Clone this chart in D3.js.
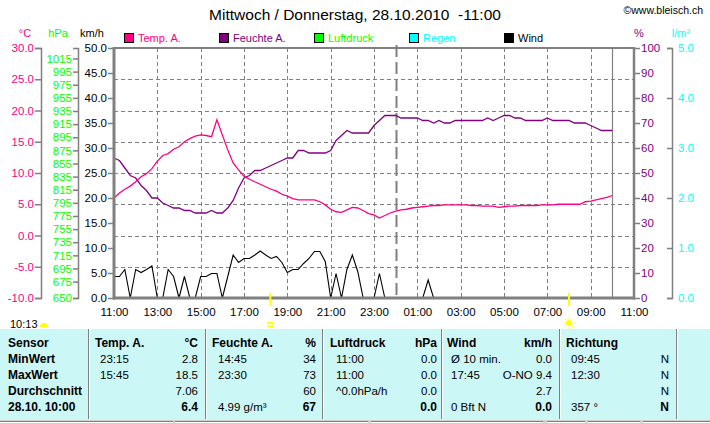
<!DOCTYPE html>
<html><head><meta charset="utf-8">
<script src="https://cdn.jsdelivr.net/npm/d3@7/dist/d3.min.js"></script>
<style>
body{margin:0;background:#fff;}
svg{display:block;font-family:"Liberation Sans",Arial,sans-serif;}
</style></head><body>
<svg id="c" width="710" height="424"></svg>
<script>
// ---------- data ----------
const startTime = "2010-10-27 11:00";
const endTime = "2010-10-28 11:00";
const nowTime = "2010-10-28 10:00";
const midnightTime = "2010-10-28 00:00";
const sunsetTime = "2010-10-27 18:13";
const sunriseTime = "2010-10-28 08:00";
const stepMinutes = 15;

const tempValues = [6.0,6.8,7.4,7.9,8.6,9.4,9.9,10.7,11.9,12.8,13.1,13.8,14.2,15.0,15.5,15.9,16.1,16.0,15.8,18.5,16.1,13.7,11.6,10.5,9.5,9.0,8.6,8.2,7.8,7.4,7.1,6.6,6.3,5.9,5.7,5.7,5.7,5.7,5.4,4.9,4.2,3.8,3.7,4.1,4.5,4.4,4.0,3.5,
  3.3,2.8,3.2,3.6,3.9,4.1,4.2,4.4,4.5,4.6,4.7,4.8,4.8,4.9,4.9,4.9,4.9,4.9,4.8,4.8,4.7,4.7,4.7,4.5,4.6,4.7,4.7,4.8,4.8,4.8,4.8,4.9,4.9,4.9,5.0,5.0,5.0,5.0,5.0,5.4,5.5,5.7,5.9,6.1,6.4];
const humValues = [56,55,52,49,48,45,43,40,40,38,37,36,36,35,35,34,34,34,35,34,34,36,39,44,48,49,51,51,52,53,54,55,56,56,59,59,58,58,58,58,59,63,65,67,66,66,66,66,
  69,71,73,73,73,72,72,72,72,71,71,70,71,70,70,71,71,71,71,71,71,72,71,72,73,73,72,72,71,71,71,71,72,71,71,71,71,70,70,70,69,68,67,67,67];
const windValues = [4.3,4.3,5.7,0,5.7,5.1,5.7,6.4,0,0,5.7,4.3,0,4.3,0,0,4.3,4.3,4.9,4.9,0,4.3,8.6,7.1,7.9,7.9,8.6,9.4,8.6,7.9,8.3,7.1,5.1,5.7,5.7,6.9,7.9,9.3,9.3,7.3,0,4.9,0,5.7,8.6,5.3,0,0,
  0,4.9,0,0,0,0,0,0,0,0,3.6,0,0,0,0,0,0,0,0,0,0,0,0,0,0,0,0,0,0,0,0,0,0,0,0,0,0,0,0,0,0,0,0,0,0];
const rainValues = new Array(93).fill(0);

const xTickLabels = ["11:00","13:00","15:00","17:00","19:00","21:00","23:00","01:00","03:00","05:00","07:00","09:00","11:00"];
const tempTicks = [-10,-5,0,5,10,15,20,25,30];
const pressTicks = [1015,995,975,955,935,915,895,875,855,835,815,795,775,755,735,715,695,675,650];
const windTicks = [0,5,10,15,20,25,30,35,40,45,50];
const humTicks = [0,10,20,30,40,50,60,70,80,90,100];
const rainTicks = [0,1,2,3,4,5];

const legendNames = ["Temp. A.","Feuchte A.","Luftdruck","Regen","Wind"];
const legendColors = ["#ff0080","#800080","#00ff00","#00ffff","#000000"];

const title = "Mittwoch / Donnerstag, 28.10.2010\u00a0 -11:00";
const dayLength = "10:13";

const rowLabels = ["Sensor","MinWert","MaxWert","Durchschnitt","28.10. 10:00"];
const colHeads = ["Temp. A.","Feuchte A.","Luftdruck","Wind","Richtung"];
const colUnits = ["°C","%","hPa","km/h",""];
const colLeft = [
  ["23:15","15:45","",""],
  ["14:45","23:30","","4.99 g/m³"],
  ["11:00","11:00","^0.0hPa/h",""],
  ["Ø 10 min.","17:45","","0 Bft N"],
  ["09:45","12:30","","357 °"]];
const colRight = [
  ["2.8","18.5","7.06","6.4"],
  ["34","73","60","67"],
  ["0.0","0.0","0.0","0.0"],
  ["0.0","O-NO 9.4","2.7","0.0"],
  ["N","N","N","N"]];

// ---------- setup ----------
const svg = d3.select("#c");
const FONT = "'Liberation Sans',Arial,sans-serif";
const GRAY = "#808080";
const L = 114, R = 634, T = 48, B = 298;
const parse = d3.timeParse("%Y-%m-%d %H:%M");
const t0 = parse(startTime), t1 = parse(endTime);
const times = tempValues.map((_, i) => d3.timeMinute.offset(t0, i * stepMinutes));

const x = d3.scaleTime().domain([t0, t1]).range([L, R]);
const yT = d3.scaleLinear().domain([-10, 30]).range([B, T]);
const yP = d3.scaleLinear().domain([650, 1031]).range([B, T]);
const yW = d3.scaleLinear().domain([0, 50]).range([B, T]);
const yH = d3.scaleLinear().domain([0, 100]).range([B, T]);
const yR = d3.scaleLinear().domain([0, 5]).range([B, T]);

// title
svg.append("text").attr("x", 355).attr("y", 20).attr("text-anchor", "middle")
  .attr("font-size", 15.5).attr("font-family", FONT).text(title);
svg.append("text").attr("x", 703).attr("y", 14).attr("text-anchor", "end")
  .attr("font-size", 10.5).attr("font-family", FONT).text("©www.bleisch.ch");

// legend
const lg = svg.append("g");
legendNames.forEach((n, i) => {
  const lx = 124 + i * 95;
  lg.append("rect").attr("x", lx + 0.5).attr("y", 33.5).attr("width", 9).attr("height", 9)
    .attr("fill", legendColors[i]).attr("stroke", "#000");
  lg.append("text").attr("x", lx + 14).attr("y", 42).attr("font-size", 11).attr("font-family", FONT)
    .attr("fill", legendColors[i]).text(n);
});

// unit labels
const units = [["°C", 25, "#ff0080"], ["hPa", 58, "#00ff00"], ["km/h", 92, "#000"], ["%", 639, "#800080"], ["l/m²", 681, "#00ffff"]];
units.forEach(u => svg.append("text").attr("x", u[1]).attr("y", 37).attr("text-anchor", "middle")
  .attr("font-size", 11).attr("font-family", FONT).attr("fill", u[2]).text(u[0]));

// grid
const grid = svg.append("g");
grid.selectAll("line.h").data(tempTicks.filter(d => d > -10 && d < 30)).join("line")
  .attr("x1", L).attr("x2", R).attr("y1", d => Math.round(yT(d)) + 0.5).attr("y2", d => Math.round(yT(d)) + 0.5)
  .attr("stroke", GRAY).attr("stroke-dasharray", "4,3");
const tickDates = xTickLabels.map((_, i) => d3.timeHour.offset(t0, i * 2));
grid.selectAll("line.v").data(tickDates.slice(1, -1)).join("line")
  .attr("x1", d => Math.round(x(d)) + 0.5).attr("x2", d => Math.round(x(d)) + 0.5).attr("y1", T).attr("y2", B)
  .attr("stroke", GRAY).attr("stroke-dasharray", "4,3");
// midnight
const xm = Math.round(x(parse(midnightTime))) + 0.5;
grid.append("line").attr("x1", xm).attr("x2", xm).attr("y1", T - 3).attr("y2", B)
  .attr("stroke", GRAY).attr("stroke-width", 2).attr("stroke-dasharray", "12,5");
// now
const xn = Math.round(x(parse(nowTime))) + 0.5;
grid.append("line").attr("x1", xn).attr("x2", xn).attr("y1", T).attr("y2", B).attr("stroke", GRAY).attr("stroke-width", 1.2);

// series
const pts = times.map((t, i) => ({ t, temp: tempValues[i], hum: humValues[i], wind: windValues[i], rain: rainValues[i] }));
const mk = (ys, key) => d3.line().x(d => x(d.t)).y(d => ys(d[key]));
svg.append("path").datum(pts).attr("d", mk(yR, "rain")).attr("fill", "none").attr("stroke", "#00ffff");
svg.append("path").datum(pts).attr("d", mk(yW, "wind")).attr("fill", "none").attr("stroke", "#000").attr("stroke-width", 1.1);
svg.append("path").datum(pts).attr("d", mk(yH, "hum")).attr("fill", "none").attr("stroke", "#800080").attr("stroke-width", 1.3);
svg.append("path").datum(pts).attr("d", mk(yT, "temp")).attr("fill", "none").attr("stroke", "#ff0080").attr("stroke-width", 1.3);

// frame
svg.append("line").attr("x1", L).attr("x2", R).attr("y1", T).attr("y2", T).attr("stroke", GRAY).attr("stroke-width", 2);
svg.append("line").attr("x1", L - 1).attr("x2", R + 1).attr("y1", B).attr("y2", B).attr("stroke", GRAY).attr("stroke-width", 3);
svg.append("line").attr("x1", L).attr("x2", L).attr("y1", T - 1).attr("y2", B + 1.5).attr("stroke", GRAY).attr("stroke-width", 3);
svg.append("line").attr("x1", R).attr("x2", R).attr("y1", T - 1).attr("y2", B + 1.5).attr("stroke", GRAY).attr("stroke-width", 2.5);

// axes
function style(g, color) {
  g.select(".domain").attr("stroke", GRAY).attr("stroke-width", 1.5);
  g.selectAll(".tick line").attr("stroke", GRAY).attr("stroke-width", 1.5);
  g.selectAll("text").attr("fill", color).attr("font-size", 11.5).attr("font-family", FONT);
}
const f1 = d => d.toFixed(1);
svg.append("g").attr("transform", "translate(41,0)")
  .call(d3.axisLeft(yT).tickValues(tempTicks).tickFormat(f1).tickSize(6).tickSizeOuter(6).tickPadding(1))
  .call(g => style(g, "#ff0080"));
svg.append("g").attr("transform", "translate(78,0)")
  .call(d3.axisLeft(yP).tickValues(pressTicks).tickFormat(d => d).tickSize(5).tickSizeOuter(5).tickPadding(1))
  .call(g => style(g, "#00ff00"));
svg.append("g").attr("transform", `translate(${L},0)`)
  .call(d3.axisLeft(yW).tickValues(windTicks).tickFormat(f1).tickSize(6).tickSizeOuter(0).tickPadding(1))
  .call(g => { style(g, "#000"); g.select(".domain").remove(); });
svg.append("g").attr("transform", `translate(${R},0)`)
  .call(d3.axisRight(yH).tickValues(humTicks).tickFormat(d => d).tickSize(6).tickSizeOuter(0).tickPadding(1))
  .call(g => { style(g, "#800080"); g.select(".domain").remove(); });
svg.append("g").attr("transform", "translate(672,0)")
  .call(d3.axisRight(yR).tickValues(rainTicks).tickFormat(f1).tickSize(-5).tickSizeOuter(-5).tickPadding(6))
  .call(g => style(g, "#00ffff"));
svg.append("g").attr("transform", `translate(0,${B})`)
  .call(d3.axisBottom(x).tickValues(tickDates).tickFormat(d3.timeFormat("%H:%M")).tickSize(0).tickPadding(10))
  .call(g => { style(g, "#000"); g.select(".domain").remove(); });

// sun markers
const xs = x(parse(sunsetTime)), xr = x(parse(sunriseTime));
[xs, xr].forEach(v => svg.append("line").attr("x1", v).attr("x2", v).attr("y1", 293).attr("y2", 306)
  .attr("stroke", "#ffff00").attr("stroke-width", 2));
svg.append("rect").attr("x", xs - 2.5).attr("y", 322.5).attr("width", 5).attr("height", 4).attr("fill", "none").attr("stroke", "#ffff00");
const sun = svg.append("g").attr("transform", `translate(${xr},323)`);
sun.append("circle").attr("r", 3).attr("fill", "#ffff00");
d3.range(8).forEach(k => { const a = k * Math.PI / 4; sun.append("line")
  .attr("x1", 4 * Math.cos(a)).attr("y1", 4 * Math.sin(a)).attr("x2", 6 * Math.cos(a)).attr("y2", 6 * Math.sin(a))
  .attr("stroke", "#ffff00"); });
svg.append("path").attr("d", "M40,327 A4,4 0 0 1 48,327 Z").attr("fill", "#ffff00");
svg.append("text").attr("x", 10).attr("y", 328).attr("font-size", 11).attr("font-family", FONT).text(dayLength);

// ---------- table ----------
const tb = svg.append("g");
tb.append("rect").attr("x", 0).attr("y", 329).attr("width", 710).attr("height", 91).attr("fill", "#ccf7f7");
const seps = [88, 205, 322, 441, 559, 676];
seps.forEach(s => {
  tb.append("line").attr("x1", s + 0.5).attr("x2", s + 0.5).attr("y1", 329).attr("y2", 419).attr("stroke", GRAY);
  tb.append("line").attr("x1", s + 1.5).attr("x2", s + 1.5).attr("y1", 329).attr("y2", 419).attr("stroke", "#fff");
});
const rowY = [347, 363, 379, 395, 411];
rowLabels.forEach((r, i) => tb.append("text").attr("x", 8).attr("y", rowY[i]).attr("font-size", 12)
  .attr("font-weight", "bold").attr("font-family", FONT).text(r));
const headX = [95, 212, 330, 447, 566];
const subX = [100, 218, 336, 451, 571];
const rightX = [198, 316, 437, 552, 669];
colHeads.forEach((h, c) => {
  tb.append("text").attr("x", headX[c]).attr("y", rowY[0]).attr("font-size", 12).attr("font-weight", "bold")
    .attr("font-family", FONT).text(h);
  tb.append("text").attr("x", rightX[c]).attr("y", rowY[0]).attr("text-anchor", "end").attr("font-size", 12)
    .attr("font-weight", "bold").attr("font-family", FONT).text(colUnits[c]);
  colLeft[c].forEach((v, r) => tb.append("text").attr("x", subX[c]).attr("y", rowY[r + 1]).attr("font-size", 11.5)
    .attr("font-family", FONT).text(v));
  colRight[c].forEach((v, r) => tb.append("text").attr("x", rightX[c]).attr("y", rowY[r + 1]).attr("text-anchor", "end")
    .attr("font-size", r === 3 ? 12 : 11.5).attr("font-weight", r === 3 ? "bold" : "normal")
    .attr("font-family", FONT).text(v));
});
// status bar
tb.append("rect").attr("x", 0).attr("y", 420).attr("width", 710).attr("height", 4).attr("fill", "#d4d0c8");
const panes = [[0, 173], [175, 368], [371, 543], [547, 585], [588, 640], [643, 710]];
panes.forEach(p => {
  tb.append("line").attr("x1", p[0]).attr("x2", p[1]).attr("y1", 421.5).attr("y2", 421.5).attr("stroke", GRAY);
  tb.append("line").attr("x1", p[0]).attr("x2", p[1]).attr("y1", 422.5).attr("y2", 422.5).attr("stroke", "#fff");
});
</script></body></html>
